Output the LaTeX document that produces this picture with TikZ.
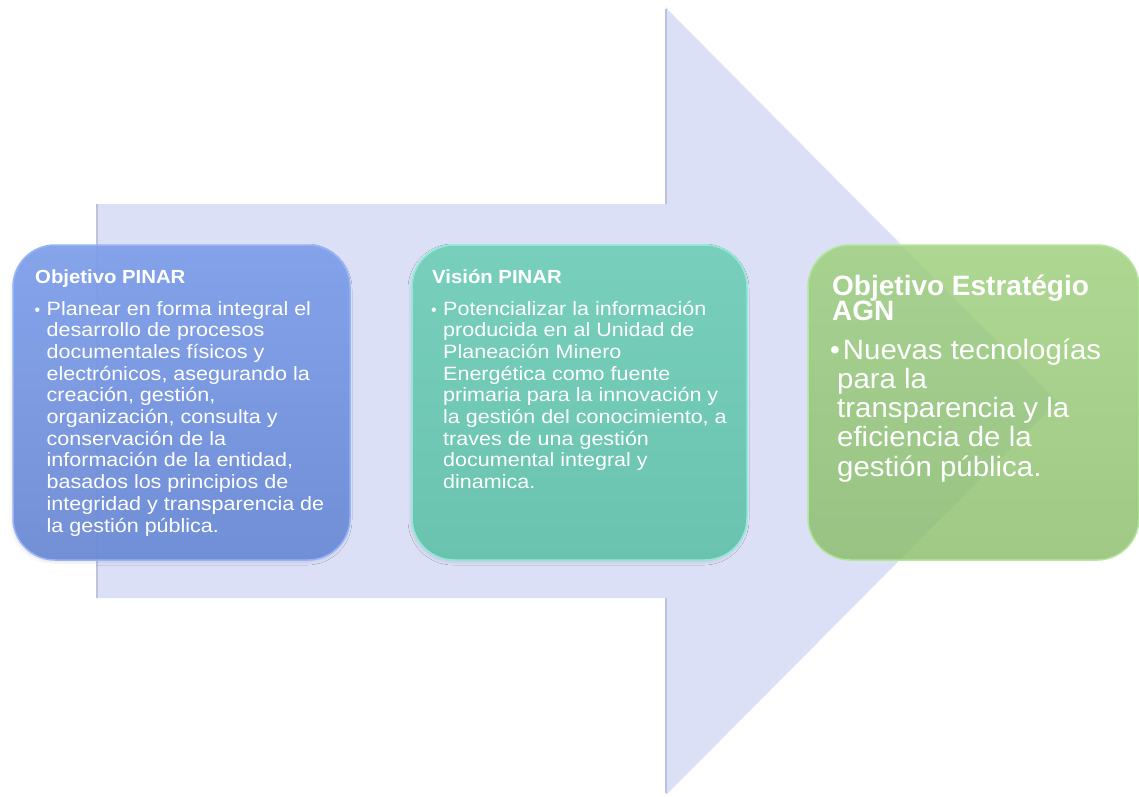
\documentclass[tikz,border=0pt]{standalone}
\usepackage{fontspec}
\setmainfont{Liberation Sans}
\usetikzlibrary{shadows.blur}

\definecolor{arrowfill}{HTML}{DCE0F7}
\definecolor{arrowedge}{HTML}{BCC2DE}
\definecolor{bluetop}{HTML}{80A0EB}
\definecolor{bluebot}{HTML}{6B8BD6}
\definecolor{blueedge}{HTML}{95B3F8}
\definecolor{tealtop}{HTML}{77CFBC}
\definecolor{tealbot}{HTML}{6AC3AF}
\definecolor{tealedge}{HTML}{8FEBD9}
\definecolor{greentop}{HTML}{9CCF7A}
\definecolor{greenbot}{HTML}{8ABD6A}
\definecolor{greenedge}{HTML}{B3E69A}

\tikzset{
  card/.style={rounded corners=42pt, line width=1.5pt, inner sep=0pt, minimum height=315pt},
  cardshadow/.style={blur shadow={shadow xshift=-1pt, shadow yshift=-2pt, shadow blur radius=3pt, shadow opacity=12}},
  heading/.style={anchor=base west, inner sep=0pt, text=white},
  bodytext/.style={anchor=base west, inner sep=0pt, text=white},
  bulletmark/.style={anchor=base west, inner sep=0pt, text=white},
}

\newcommand{\smallbody}[1]{\scalebox{1.115}[1]{\parbox[t]{300pt}{\fontsize{19.3}{21.7}\selectfont\raggedright #1}}}
\newcommand{\largebody}[1]{\scalebox{1.05}[1]{\parbox[t]{300pt}{\fontsize{28}{29.3}\selectfont\raggedright #1}}}

\begin{document}
\begin{tikzpicture}[x=1pt, y=-1pt]
  \useasboundingbox (0,0) rectangle (1139,796);

  % big background arrow
  \fill[arrowfill] (97,204) -- (666,204) -- (666,7) -- (1058,401) -- (666,795) -- (666,598) -- (97,598) -- cycle;
  \draw[arrowedge, line width=1.2pt] (97,598) -- (97,204);
  \draw[arrowedge, line width=1.2pt] (666,204) -- (666,9);
  \draw[arrowedge, line width=1.2pt] (666,598) -- (666,793);
  \draw[white, line width=1pt] (668,9) -- (1056,400);

  % three cards
  \node[card, cardshadow, draw=blueedge, top color=bluetop, bottom color=bluebot,
        fill opacity=0.93, minimum width=337pt] (objbox) at (181.5,402.5) {};
  \node[card, cardshadow, draw=tealedge, top color=tealtop, bottom color=tealbot,
        minimum width=335pt] (visbox) at (579.5,402.5) {};
  \node[card, draw=greenedge, top color=greentop, bottom color=greenbot,
        fill opacity=0.82, minimum width=331pt] (agnbox) at (973.5,402.5) {};

  % card 1: Objetivo PINAR
  \node[heading] (objtitle) at (35,283)
    {\scalebox{1.07}[1]{\bfseries\fontsize{19}{21}\selectfont Objetivo PINAR}};
  \node[bulletmark] (objbullet) at (34.5,315) {\fontsize{16}{16}\selectfont\textbullet};
  \node[bodytext] (objtext) at (46.5,315) {\smallbody{%
    Planear en forma integral el\\
    desarrollo de procesos\\
    documentales físicos y\\
    electrónicos, asegurando la\\
    creación, gestión,\\
    organización, consulta y\\
    conservación de la\\
    información de la entidad,\\
    basados los principios de\\
    integridad y transparencia de\\
    la gestión pública.}};

  % card 2: Visión PINAR
  \node[heading] (vistitle) at (432,283)
    {\scalebox{1.07}[1]{\bfseries\fontsize{19}{21}\selectfont Visión PINAR}};
  \node[bulletmark] (visbullet) at (431,315) {\fontsize{16}{16}\selectfont\textbullet};
  \node[bodytext] (vistext) at (443,315) {\smallbody{%
    Potencializar la información\\
    producida en al Unidad de\\
    Planeación Minero\\
    Energética como fuente\\
    primaria para la innovación y\\
    la gestión del conocimiento, a\\
    traves de una gestión\\
    documental integral y\\
    dinamica.}};

  % card 3: Objetivo Estratégio AGN
  \node[heading] (agntitle) at (832,295)
    {\parbox[t]{300pt}{\bfseries\fontsize{28}{25.5}\selectfont Objetivo Estratégio\\AGN}};
  \node[bulletmark] (agnbullet) at (830,359) {\fontsize{28}{28}\selectfont\textbullet};
  \node[bodytext] (agntext) at (837,359) {\largebody{%
    \hspace*{5.5pt}Nuevas tecnologías\\
    para la\\
    transparencia y la\\
    eficiencia de la\\
    gestión pública.}};
\end{tikzpicture}
\end{document}
